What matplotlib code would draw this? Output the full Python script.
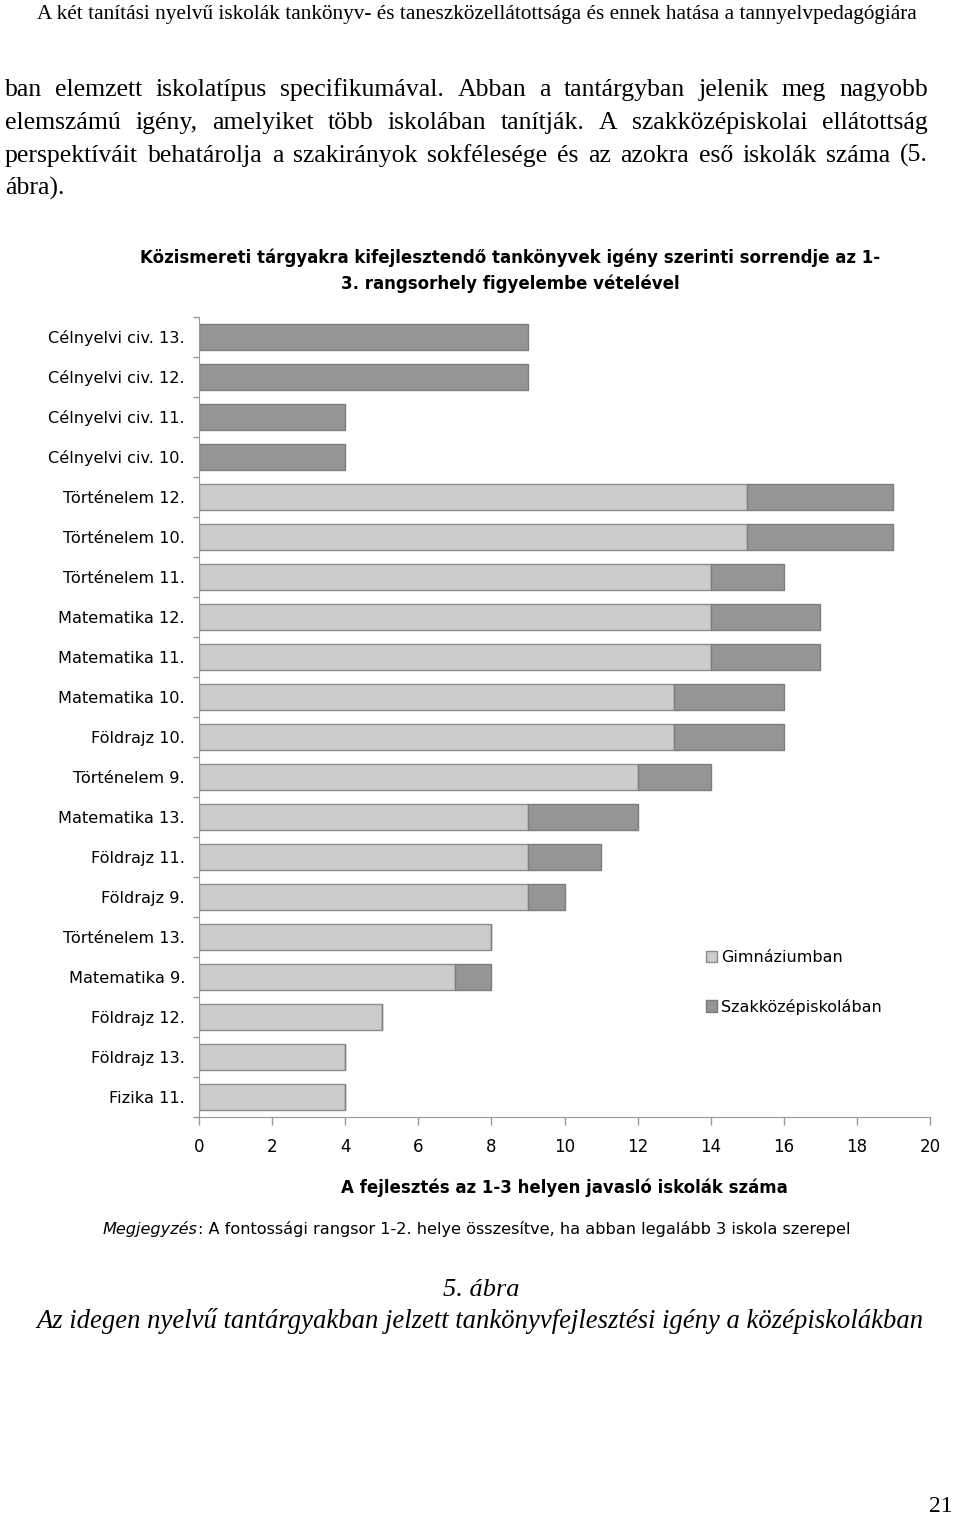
import matplotlib
matplotlib.use("Agg")
import matplotlib.pyplot as plt

W, H = 960, 1517

categories = [
    "Célnyelvi civ. 13.", "Célnyelvi civ. 12.", "Célnyelvi civ. 11.", "Célnyelvi civ. 10.",
    "Történelem 12.", "Történelem 10.", "Történelem 11.", "Matematika 12.",
    "Matematika 11.", "Matematika 10.", "Földrajz 10.", "Történelem 9.",
    "Matematika 13.", "Földrajz 11.", "Földrajz 9.", "Történelem 13.",
    "Matematika 9.", "Földrajz 12.", "Földrajz 13.", "Fizika 11.",
]
gimnazium = [0, 0, 0, 0, 15, 15, 14, 14, 14, 13, 13, 12, 9, 9, 9, 8, 7, 5, 4, 4]
szakkozep = [9, 9, 4, 4, 4, 4, 2, 3, 3, 3, 3, 2, 3, 2, 1, 0, 1, 0, 0, 0]
xticks = list(range(0, 21, 2))

header = "A két tanítási nyelvű iskolák tankönyv- és taneszközellátottsága és ennek hatása a tannyelvpedagógiára"
paragraph = [
    "ban elemzett iskolatípus specifikumával. Abban a tantárgyban jelenik meg nagyobb",
    "elemszámú igény, amelyiket több iskolában tanítják. A szakközépiskolai ellátottság",
    "perspektíváit behatárolja a szakirányok sokfélesége és az azokra eső iskolák száma (5.",
    "ábra).",
]
title = "Közismereti tárgyakra kifejlesztendő tankönyvek igény szerinti sorrendje az 1-\n3. rangsorhely figyelembe vételével"
xlabel = "A fejlesztés az 1-3 helyen javasló iskolák száma"
note_head = "Megjegyzés"
note_text = ": A fontossági rangsor 1-2. helye összesítve, ha abban legalább 3 iskola szerepel"
caption1 = "5. ábra"
caption2 = "Az idegen nyelvű tantárgyakban jelzett tankönyvfejlesztési igény a középiskolákban"

serif = ["Liberation Serif", "DejaVu Serif"]
sans = ["DejaVu Sans"]

fig = plt.figure(figsize=(W / 100, H / 100), dpi=100)
renderer = fig.canvas.get_renderer()


def fy(y):
    return 1 - y / H


def justify(line, x0, x1, y, **kw):
    words = line.split(" ")
    texts = [fig.text(0, fy(y), w, va="baseline", ha="left", **kw) for w in words]
    widths = [t.get_window_extent(renderer).width for t in texts]
    gap = (x1 - x0 - sum(widths)) / (len(words) - 1)
    x = x0
    for t, w in zip(texts, widths):
        t.set_x(x / W)
        x += w + gap


# page text
fig.text(0.5 * (35 + 918) / W, fy(19), header, ha="center", va="baseline",
         family=serif, fontsize=15.3)
for i, line in enumerate(paragraph):
    yb = 96 + 33 * i
    if i < len(paragraph) - 1:
        justify(line, 5, 928, yb, family=serif, fontsize=18.5)
    else:
        fig.text(5 / W, fy(yb), line, ha="left", va="baseline", family=serif, fontsize=18.5)

fig.text(510 / W, fy(271), title, ha="center", va="center", family=sans,
         fontsize=12, fontweight="bold", linespacing=1.5)

# chart
ax = fig.add_axes([199 / W, fy(1117), (930 - 199) / W, 800 / H])
ypos = list(range(len(categories)))
ax.barh(ypos, gimnazium, height=0.65, color="#cccccc", edgecolor="#8c8c8c",
        linewidth=1, label="Gimnáziumban")
ax.barh(ypos, szakkozep, left=gimnazium, height=0.65, color="#959595",
        edgecolor="#7d7d7d", linewidth=1, label="Szakközépiskolában")
ax.set_ylim(len(categories) - 0.5, -0.5)
ax.set_xlim(0, 20)
ax.set_yticks(ypos)
ax.set_yticklabels(categories, family=sans, fontsize=11.6)
ax.set_yticks([i - 0.5 for i in range(len(categories) + 1)], minor=True)
ax.tick_params(axis="y", which="major", length=0, pad=10)
ax.tick_params(axis="y", which="minor", length=4, color="#999999", width=1)
ax.set_xticks(xticks)
ax.set_xticklabels([str(v) for v in xticks], family=sans, fontsize=12)
ax.tick_params(axis="x", length=6, color="#999999", width=1, pad=9)
for s in ["top", "right"]:
    ax.spines[s].set_visible(False)
for s in ["left", "bottom"]:
    ax.spines[s].set_color("#999999")
ax.set_xlabel(xlabel, family=sans, fontsize=12, fontweight="bold", labelpad=16)

leg = ax.legend(loc="upper left", bbox_to_anchor=(698 / W, fy(942)),
                bbox_transform=fig.transFigure, frameon=False, borderpad=0,
                handlelength=0.7, handleheight=0.7, handletextpad=0.25,
                labelspacing=2.1, prop={"family": sans, "size": 11.5})

# note and captions
t1 = fig.text(103 / W, fy(1234), note_head, ha="left", va="baseline", family=sans,
              fontsize=11.6, style="italic")
w1 = t1.get_window_extent(renderer).width
fig.text((103 + w1) / W, fy(1234), note_text, ha="left", va="baseline", family=sans,
         fontsize=11.6)
fig.text(481 / W, fy(1296), caption1, ha="center", va="baseline", family=serif,
         fontsize=19, style="italic")
fig.text(480 / W, fy(1328), caption2, ha="center", va="baseline", family=serif,
         fontsize=19.2, style="italic")
fig.text(953 / W, fy(1512), "21", ha="right", va="baseline", family=serif, fontsize=17)

fig.savefig("out.png", dpi=100)
